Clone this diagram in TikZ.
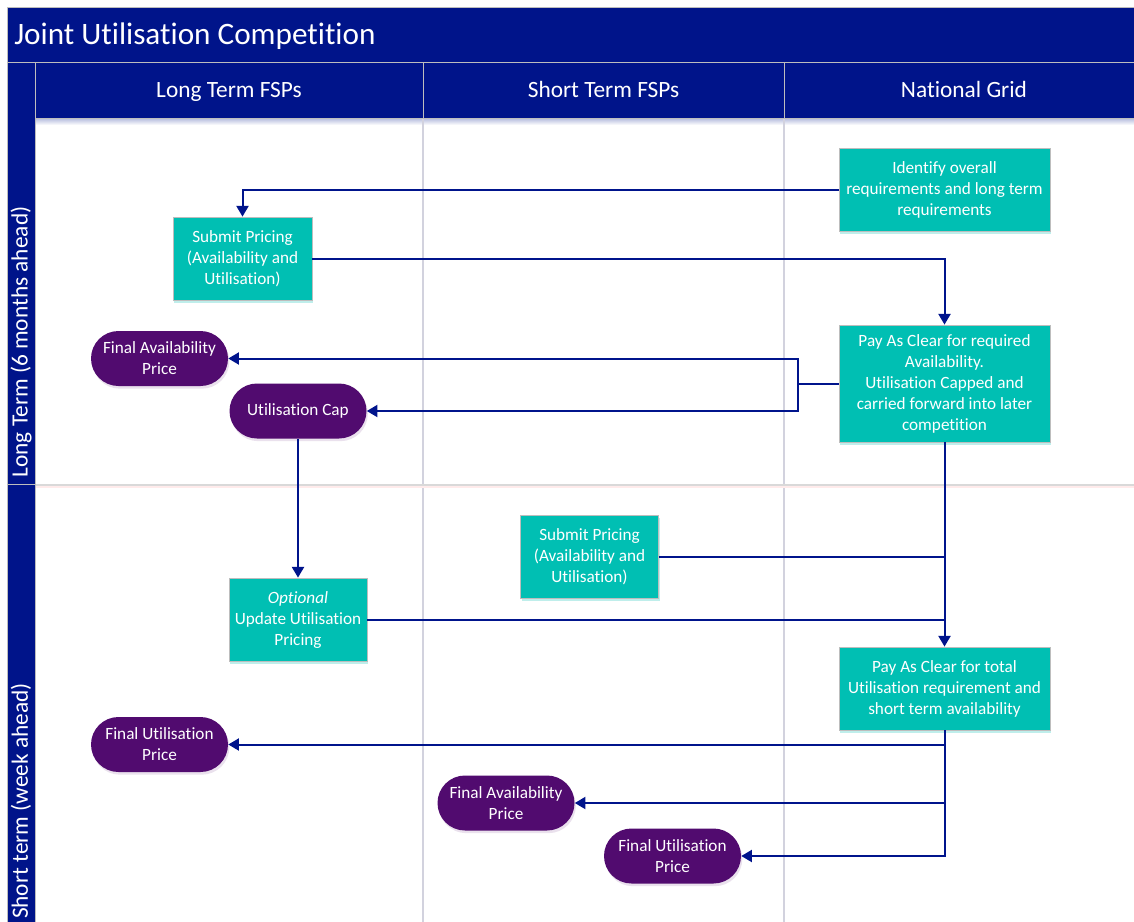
\documentclass[tikz,border=0pt]{standalone}
\usepackage{fontspec}
\setmainfont{Carlito}[Ligatures=NoCommon, RawFeature={-liga;-clig}]
\usetikzlibrary{arrows.meta,shapes.misc,shadows}
\definecolor{navy}{HTML}{00148A}
\definecolor{teal1}{HTML}{00BFB3}
\definecolor{plum}{HTML}{510B6F}
\definecolor{edge}{HTML}{BDBDBD}
\definecolor{lane}{HTML}{D2D2DE}
\definecolor{linkc}{HTML}{00148C}
\newcommand{\boxfont}{\fontsize{12.9}{15.75}\selectfont}
\newcommand{\headfont}{\fontsize{17.5}{21}\selectfont}
\begin{document}
\begin{tikzpicture}[x=0.75pt,y=-0.75pt,
  task/.style={rectangle, fill=teal1, draw=edge, line width=0.6pt, text=white,
    align=center, inner sep=0pt, font=\boxfont,
    drop shadow={shadow xshift=1pt, shadow yshift=-2pt, opacity=0.25, fill=teal1}},
  result/.style={rounded rectangle, fill=plum, draw=none, text=white, align=center,
    inner sep=0pt, minimum width=102.75pt, minimum height=41.25pt, font=\boxfont,
    drop shadow={shadow xshift=1pt, shadow yshift=-2pt, opacity=0.2, fill=plum!60}},
  flow/.style={draw=linkc, line width=1.5pt},
  arr/.style={flow, -{Triangle[width=9pt,length=8pt]}},
  headcell/.style={fill=navy, draw=edge, line width=0.75pt},
  headtext/.style={text=white, font=\headfont, inner sep=0pt},
]
\useasboundingbox (0,0) rectangle (1134,921);
\fill[white] (0,0) rectangle (1134,921);
\clip (0,0) rectangle (1134,921);

% header shadow
\shade[top color=navy!30, bottom color=white] (35,118) rectangle (1145,125);

% swimlane separators
\draw[lane, line width=2pt] (423,118) -- (423,925);
\draw[lane, line width=2pt] (784,118) -- (784,925);
\draw[black!15, line width=1.5pt] (35,484.5) -- (1145,484.5);
\draw[red!8, line width=1.5pt] (35,487) -- (1145,487);

% frame: title, column headers, lane headers
\draw[headcell] (7,7) rectangle (1145,62);
\draw[headcell] (7,62) rectangle (35,925);
\draw[edge, line width=0.75pt] (7,484) -- (35,484);
\draw[headcell] (35,62) rectangle (423,118);
\draw[headcell] (423,62) rectangle (784,118);
\draw[headcell] (784,62) rectangle (1145,118);

\node[headtext, anchor=base west, font=\fontsize{23.4}{28}\selectfont] (title) at (14,44) {Joint Utilisation Competition};
\node[headtext, anchor=base] (hlong) at (229,97) {Long Term FSPs};
\node[headtext, anchor=base] (hshort) at (603.5,97) {Short Term FSPs};
\node[headtext, anchor=base] (hng) at (964,97) {National Grid};
\node[headtext, rotate=90] (lanelong) at (21,342) {Long Term (6 months ahead)};
\node[headtext, rotate=90] (laneshort) at (21,801) {Short term (week ahead)};

% process steps
\node[task, minimum width=158.25pt, minimum height=62.25pt] (ident) at (944.5,189.5)
  {Identify overall\\requirements and long term\\requirements};
\node[task, minimum width=104.25pt, minimum height=62.25pt] (sp1) at (242.5,258.5)
  {Submit Pricing\\(Availability and\\Utilisation)};
\node[task, minimum width=158.25pt, minimum height=87.75pt] (pac1) at (944.5,383.5)
  {Pay As Clear for required\\Availability.\\Utilisation Capped and\\carried forward into later\\competition};
\node[result] (fap1) at (159.5,358.5) {Final Availability\\Price};
\node[result] (ucap) at (298,411) {Utilisation Cap};
\node[task, minimum width=103.5pt, minimum height=62.25pt] (sp2) at (589.5,556.5)
  {Submit Pricing\\(Availability and\\Utilisation)};
\node[task, minimum width=103.5pt, minimum height=62.25pt] (opt) at (298,619.5)
  {\textit{Optional}\\Update Utilisation\\Pricing};
\node[task, minimum width=158.25pt, minimum height=62.25pt] (pac2) at (944.5,688.5)
  {Pay As Clear for total\\Utilisation requirement and\\short term availability};
\node[result] (fup1) at (159.5,744.5) {Final Utilisation\\Price};
\node[result] (fap2) at (506,803) {Final Availability\\Price};
\node[result] (fup2) at (672.5,856) {Final Utilisation\\Price};

% connectors
\draw[arr] (ident.west) -| (sp1.north);
\draw[arr] (sp1.east) -| (pac1.north);
\draw[flow] (pac1.west) -- ++(-41,0) coordinate (split1);
\draw[arr] (split1) |- (fap1.east);
\draw[arr] (split1) |- (ucap.east);
\draw[arr] (ucap.south) -- (opt.north);
\draw[arr] (pac1.south) -- (pac2.north);
\draw[flow] (sp2.east) -- (sp2.east -| pac1.south);
\draw[flow] (opt.east) -- (opt.east -| pac1.south);
\draw[arr] (pac2.south) |- (fup1.east);
\draw[arr] (pac2.south) |- (fap2.east);
\draw[arr] (pac2.south) |- (fup2.east);
\end{tikzpicture}
\end{document}
